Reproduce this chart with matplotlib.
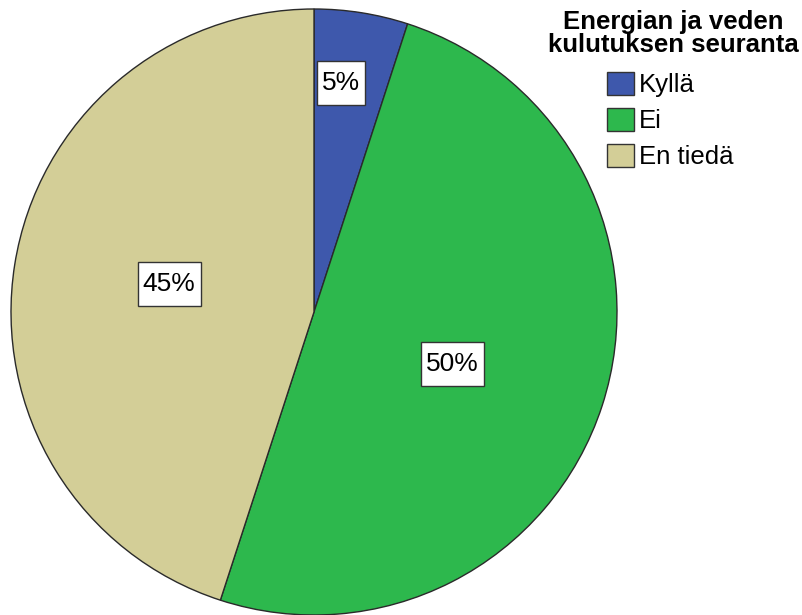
import matplotlib.pyplot as plt
from matplotlib.patches import Patch
import numpy as np

plt.rcParams['font.family'] = ['Liberation Sans', 'DejaVu Sans']

categories = ['Kyllä', 'Ei', 'En tiedä']
shares = [5, 50, 45]
colors = ['#3e58ac', '#2db84d', '#d3ce97']
# where each % box sits: fraction of the radius, and a nudge (deg) off the mid angle
label_dist = [0.76, 0.487, 0.487]
label_turn = [2.3, -2.6, -2.0]

fig = plt.figure(figsize=(8.02, 6.15), dpi=100)
ax = fig.add_axes([11 / 802, 0, 606 / 802, 606 / 615])

wedges, _ = ax.pie(shares, colors=colors, startangle=90, counterclock=False,
                   radius=1, wedgeprops=dict(edgecolor='#2a2a2a', linewidth=1.0))
ax.set_xlim(-1, 1)
ax.set_ylim(-1, 1)
ax.set_aspect('equal')

for w, s, d, t in zip(wedges, shares, label_dist, label_turn):
    ang = np.deg2rad((w.theta1 + w.theta2) / 2 + t)
    ax.text(d * np.cos(ang), d * np.sin(ang), '%d%%' % s, ha='center', va='center',
            fontsize=19,
            bbox=dict(boxstyle='square,pad=0.19', mutation_aspect=2.0,
                      facecolor='white', edgecolor='#333333', linewidth=1.0))

fig.text(673 / 802, 1 - 10 / 615, 'Energian ja veden\nkulutuksen seuranta',
         ha='center', va='top', multialignment='center', fontsize=18.5,
         fontweight='bold', linespacing=0.95)

handles = [Patch(facecolor=c, edgecolor='#333333', linewidth=1.0) for c in colors]
leg = fig.legend(handles, categories, loc='upper left',
                 bbox_to_anchor=(607 / 802, 1 - 72 / 615), frameon=False,
                 fontsize=18.5, handlelength=1.05, handleheight=1.0,
                 handletextpad=0.2, labelspacing=0.42, borderpad=0,
                 borderaxespad=0)

fig.savefig('out.png', dpi=100)
